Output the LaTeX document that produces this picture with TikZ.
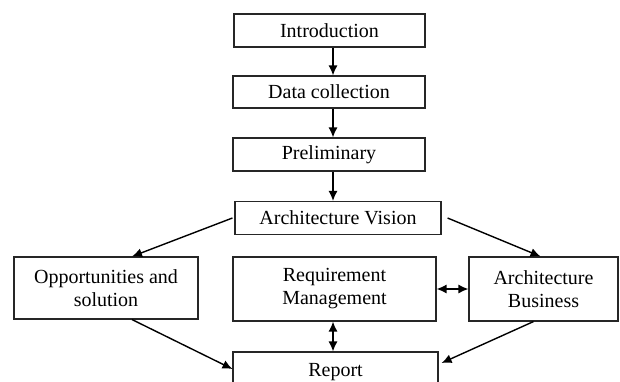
\documentclass[tikz,border=0pt]{standalone}
\usepackage{fontspec}
\setmainfont{Liberation Serif}
\usetikzlibrary{arrows.meta}
\begin{document}
\begin{tikzpicture}[x=1pt,y=-1pt,
  box/.style={draw=black!85, line width=1.1pt, fill=white, inner sep=0pt, align=center,
    font=\fontsize{20}{23}\selectfont},
  arr/.style={line width=1.4pt, -{Latex[length=10pt,width=9pt]}},
  biarr/.style={line width=1.4pt, {Latex[length=10pt,width=9pt]}-{Latex[length=10pt,width=9pt]}}]
\useasboundingbox (0,0) rectangle (620,382);
\clip (0,0) rectangle (620,382);
\fill[white] (0,0) rectangle (620,382);
\node[box, minimum width=191pt, minimum height=33pt] (intro) at (329.5,30.5) {Introduction};
\node[box, minimum width=192pt, minimum height=32pt] (data) at (329,92) {Data collection};
\node[box, minimum width=192pt, minimum height=33pt] (prelim) at (329,154.5) {Preliminary};
\node[box, minimum width=206pt, minimum height=33pt] (av) at (338,218) {Architecture Vision};
\node[box, minimum width=184pt, minimum height=62pt] (opp) at (106,288) {Opportunities and\\solution};
\node[box, minimum width=203pt, minimum height=64pt] (req) at (334.5,289) {Requirement\\Management};
\node[box, minimum width=149pt, minimum height=64pt] (ab) at (543.5,289) {Architecture\\Business};
\node[box, minimum width=205pt, minimum height=40pt] (report) at (335.5,372) {Report};
\draw[arr] ([xshift=3.5pt]intro.south) -- ([xshift=4pt]data.north);
\draw[arr] ([xshift=4pt]data.south) -- ([xshift=4pt]prelim.north);
\draw[arr] ([xshift=4pt]prelim.south) -- ([xshift=-5pt]av.north);
\draw[arr] ([xshift=-2pt]av.west) -- ([xshift=26pt]opp.north);
\draw[arr] ([xshift=6pt]av.east) -- ([xshift=-3pt]ab.north);
\draw[biarr] (req.east) -- (ab.west);
\draw[biarr] ([xshift=-1.5pt]req.south) -- ([xshift=-2.5pt]report.north);
\draw[arr] ([xshift=26pt]opp.south) -- ([yshift=3pt]report.west);
\draw[arr] ([xshift=-10pt]ab.south) -- ([yshift=9pt,xshift=3pt]report.east);
\end{tikzpicture}
\end{document}
